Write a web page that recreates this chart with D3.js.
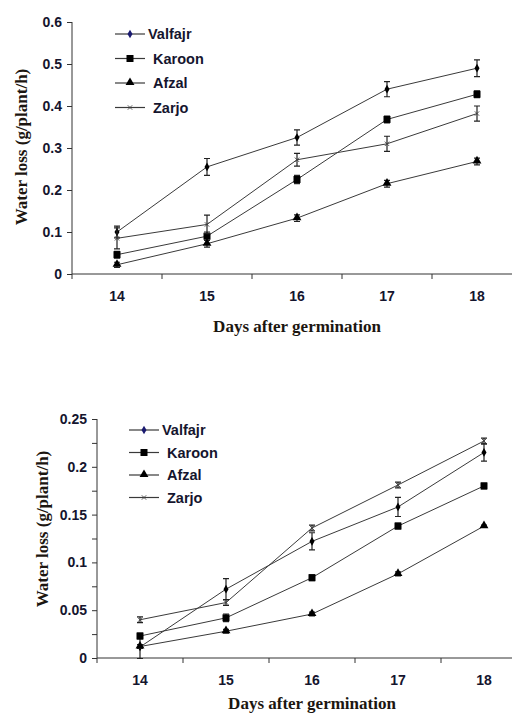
<!DOCTYPE html>
<html lang="en">
<head>
<meta charset="utf-8">
<title>Water loss</title>
<script src="https://d3js.org/d3.v7.min.js"></script>
<style>
    body { margin: 0; background: #fff; }
    .tick text { font-family: "Liberation Sans", Arial, sans-serif; font-weight: bold; font-size: 14px; fill: #15152e; }
    .ttl { font-family: "Liberation Serif", "Times New Roman", serif; font-weight: bold; font-size: 17px; fill: #1c1610; }
    .leg { font-family: "Liberation Sans", Arial, sans-serif; font-weight: bold; font-size: 14.5px; fill: #15152e; }
</style>
</head>
<body>
<div id="s"></div>
<script>
var WIDTH = 512;
var HEIGHT = 715;

var days = [14, 15, 16, 17, 18];
var cultivars = ["Valfajr", "Karoon", "Afzal", "Zarjo"];

// chart 1
var top_valfajr = [0.100, 0.255, 0.325, 0.440, 0.490];
var top_valfajr_err = [0.014, 0.020, 0.018, 0.018, 0.020];
var top_karoon = [0.046, 0.090, 0.225, 0.368, 0.428];
var top_karoon_err = [0.008, 0.010, 0.010, 0.008, 0.008];
var top_afzal = [0.022, 0.072, 0.133, 0.215, 0.268];
var top_afzal_err = [0.006, 0.008, 0.008, 0.008, 0.008];
var top_zarjo = [0.085, 0.118, 0.272, 0.310, 0.382];
var top_zarjo_err = [0.025, 0.022, 0.015, 0.018, 0.018];
var top_ticks = [0, 0.1, 0.2, 0.3, 0.4, 0.5, 0.6];

// chart 2
var bot_valfajr = [0.0115, 0.072, 0.122, 0.158, 0.215];
var bot_valfajr_err = [0.012, 0.011, 0.009, 0.010, 0.009];
var bot_karoon = [0.023, 0.042, 0.084, 0.138, 0.180];
var bot_karoon_err = [0.003, 0.004, 0.003, 0.003, 0.003];
var bot_afzal = [0.012, 0.028, 0.046, 0.088, 0.138];
var bot_afzal_err = [0.002, 0.002, 0.002, 0.002, 0.001];
var bot_zarjo = [0.040, 0.058, 0.136, 0.181, 0.227];
var bot_zarjo_err = [0.003, 0.003, 0.003, 0.003, 0.003];
var bot_ticks = [0, 0.025, 0.05, 0.075, 0.1, 0.125, 0.15, 0.175, 0.2, 0.225, 0.25];

var svg = d3.select("#s").append("svg")
    .attr("width", WIDTH)
    .attr("height", HEIGHT);

function marker(g, type, x, y, legend) {
    if (type == "Valfajr") {
        g.append("path").attr("d", d3.symbol(d3.symbolDiamond, 22)())
            .attr("transform", "translate(" + x + "," + y + ")")
            .attr("fill", legend ? "#1a1a70" : "#000");
    } else if (type == "Karoon") {
        g.append("rect").attr("x", x - 3.5).attr("y", y - 3.5).attr("width", 7).attr("height", 7).attr("fill", "#000");
    } else if (type == "Afzal") {
        g.append("path").attr("d", d3.symbol(d3.symbolTriangle, 34)())
            .attr("transform", "translate(" + x + "," + (y - 0.5) + ")")
            .attr("fill", "#000");
    } else {
        g.append("path").attr("d", d3.symbol(d3.symbolX, 14)())
            .attr("transform", "translate(" + x + "," + y + ")")
            .attr("fill", "none").attr("stroke", "#444").attr("stroke-width", 0.9);
    }
}

function drawChart(c) {
    var g = svg.append("g");
    var x = d3.scaleBand().domain(days).range([c.left, c.left + 5 * c.bw]);
    var y = d3.scaleLinear().domain([0, c.max]).range([c.bottom, c.top]);

    // y axis
    var ya = g.append("g").attr("transform", "translate(" + c.left + ",0)")
        .call(d3.axisLeft(y).tickValues(c.ticks).tickSize(5).tickPadding(5)
            .tickFormat(function (d) { return c.label(d) ? d3.format("")(+d.toFixed(3)) : ""; }));
    ya.select(".domain").attr("stroke", "#333").attr("d", "M0," + y(c.max) + "V" + y(0));
    ya.selectAll(".tick line").attr("stroke", "#333");

    // x axis, labels at band centers, tick marks at band edges
    var xa = g.append("g").attr("transform", "translate(0," + c.bottom + ")")
        .call(d3.axisBottom(x).tickSize(0).tickPadding(17));
    xa.select(".domain").attr("stroke", "#333").attr("d", "M" + c.left + ",0H" + WIDTH);
    g.selectAll(".xt").data(days).enter().append("line")
        .attr("x1", function (d) { return x(d); }).attr("x2", function (d) { return x(d); })
        .attr("y1", c.bottom).attr("y2", c.bottom + 5).attr("stroke", "#333");

    g.append("text").attr("class", "ttl").attr("text-anchor", "middle")
        .attr("x", c.left + 2.5 * c.bw).attr("y", c.xTitleY).text("Days after germination");
    g.append("text").attr("class", "ttl").attr("text-anchor", "middle")
        .attr("transform", "translate(" + c.yTitleX + "," + c.yTitleY + ") rotate(-90)")
        .text("Water loss (g/plant/h)");

    var line = d3.line().x(function (d, i) { return x(days[i]) + x.bandwidth() / 2; })
        .y(function (d) { return y(d); });

    cultivars.forEach(function (name, k) {
        var vals = c.series[k], errs = c.errs[k];
        g.append("path").datum(vals).attr("d", line)
            .attr("fill", "none").attr("stroke", "#3a3a3a").attr("stroke-width", 1);
        vals.forEach(function (v, i) {
            var cx = x(days[i]) + x.bandwidth() / 2;
            var y1 = y(v + errs[i]), y2 = y(v - errs[i]);
            g.append("path").attr("d", "M" + cx + "," + y1 + "V" + y2 + "M" + (cx - 3) + "," + y1 + "H" + (cx + 3) + "M" + (cx - 3) + "," + y2 + "H" + (cx + 3))
                .attr("stroke", "#222").attr("stroke-width", 1.2).attr("fill", "none");
            marker(g, name, cx, y(v), false);
        });
        // legend
        var ly = c.legY + k * c.legStep;
        g.append("line").attr("x1", c.legX).attr("x2", c.legX + 30).attr("y1", ly).attr("y2", ly)
            .attr("stroke", "#3a3a3a").attr("stroke-width", 1.2);
        marker(g, name, c.legX + 15, ly, true);
        g.append("text").attr("class", "leg").attr("x", c.legX + (k == 0 ? 33 : 38)).attr("y", ly + 5).text(name);
    });
}

drawChart({
    left: 72, bw: 90, top: 22, bottom: 274, max: 0.6, ticks: top_ticks,
    label: function () { return true; },
    series: [top_valfajr, top_karoon, top_afzal, top_zarjo],
    errs: [top_valfajr_err, top_karoon_err, top_afzal_err, top_zarjo_err],
    xTitleY: 332, yTitleX: 27, yTitleY: 147,
    legX: 115, legY: 34, legStep: 24.5
});

drawChart({
    left: 97, bw: 86, top: 419, bottom: 658, max: 0.25, ticks: bot_ticks,
    label: function (d) { return Math.round(d * 1000) % 50 == 0; },
    series: [bot_valfajr, bot_karoon, bot_afzal, bot_zarjo],
    errs: [bot_valfajr_err, bot_karoon_err, bot_afzal_err, bot_zarjo_err],
    xTitleY: 709, yTitleX: 48, yTitleY: 529,
    legX: 129, legY: 430, legStep: 22.5
});
</script>
</body>
</html>
